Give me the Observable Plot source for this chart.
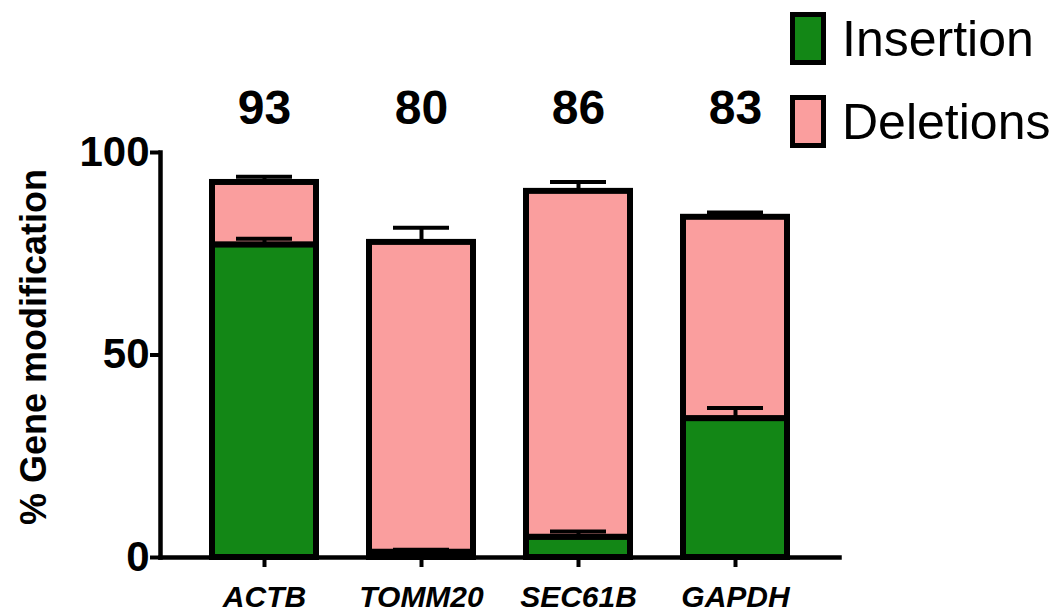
<!DOCTYPE html>
<html>
<head>
<meta charset="utf-8">
<script src="https://cdn.jsdelivr.net/npm/d3@7"></script>
<script src="https://cdn.jsdelivr.net/npm/@observablehq/plot@0.6"></script>
<style>
  html, body { margin: 0; padding: 0; background: #fff; }
  #wrap { position: relative; width: 1063px; height: 616px; font-family: "Liberation Sans", Arial, sans-serif; }
  #legend { position: absolute; left: 790px; top: 12px; }
  .item { display: flex; align-items: center; height: 53px; margin-bottom: 30px; }
  .sw { width: 26px; height: 43px; border: 5px solid #000; margin-right: 16px; }
  .lab { font-size: 50px; color: #000; line-height: 1; }
</style>
</head>
<body>
<div id="wrap"></div>
<script>
const genes = ["ACTB", "TOMM20", "SEC61B", "GAPDH"];
const insertion = [77.2, 1.3, 5.0, 34.3];
const deletions = [15.4, 76.5, 85.4, 49.7];
const insertionSEM = [1.5, 0.6, 1.4, 2.6];
const totalSEM = [1.4, 3.6, 2.3, 1.2];
const topLabels = ["93", "80", "86", "83"];
const seriesNames = ["Insertion", "Deletions"];
const seriesColors = ["#138716", "#fa9e9e"];
const yTicks = [0, 50, 100];
const yTitle = "% Gene modification";

const rows = [];
genes.forEach((g, i) => {
  rows.push({gene: g, type: seriesNames[0], value: insertion[i]});
  rows.push({gene: g, type: seriesNames[1], value: deletions[i]});
});
const errs = genes.flatMap((g, i) => [
  {gene: g, y1: insertion[i], y2: insertion[i] + insertionSEM[i]},
  {gene: g, y1: insertion[i] + deletions[i], y2: insertion[i] + deletions[i] + totalSEM[i]}
]);
const tops = genes.map((g, i) => ({gene: g, label: topLabels[i]}));

const chart = Plot.plot({
  width: 1063,
  height: 616,
  marginLeft: 160,
  marginRight: 224,
  marginTop: 152,
  marginBottom: 59,
  style: {fontFamily: "Liberation Sans, Arial, sans-serif", color: "#000", background: "#fff"},
  x: {domain: genes, paddingInner: 0.338, paddingOuter: 0.331, label: null},
  y: {domain: [0, 100], label: null},
  color: {domain: seriesNames, range: seriesColors},
  marks: [
    Plot.barY(rows, {x: "gene", y: "value", fill: "type", stroke: "#000", strokeWidth: 6}),
    Plot.ruleX(errs, {x: "gene", y1: "y1", y2: "y2", stroke: "#000", strokeWidth: 4}),
    Plot.tickY(errs, {x: "gene", y: "y2", stroke: "#000", strokeWidth: 4, insetLeft: 24, insetRight: 24}),
    Plot.frame({anchor: "left", stroke: "#000", strokeWidth: 4.5}),
    Plot.frame({anchor: "bottom", stroke: "#000", strokeWidth: 4.5}),
    Plot.axisY({ticks: yTicks, tickSize: 10, tickPadding: 1, strokeWidth: 4, fontSize: 42, fontWeight: "bold", label: null}),
    Plot.axisX({tickSize: 10, tickPadding: 18, strokeWidth: 4, fontSize: 30, fontWeight: "bold", fontStyle: "italic", label: null}),
    Plot.text([yTitle], {frameAnchor: "left", rotate: -90, dx: -126, dy: -8, fontSize: 36, fontWeight: "bold", fill: "#000", lineAnchor: "middle", textAnchor: "middle"}),
    Plot.text(tops, {x: "gene", text: "label", frameAnchor: "top", lineAnchor: "middle", dy: -44, fontSize: 48, fontWeight: "bold", fill: "#000"})
  ]
});
const wrap = document.getElementById("wrap");
wrap.appendChild(chart);

const legend = document.createElement("div");
legend.id = "legend";
seriesNames.forEach((n, i) => {
  const it = document.createElement("div");
  it.className = "item";
  const sw = document.createElement("div");
  sw.className = "sw";
  sw.style.background = seriesColors[i];
  const lb = document.createElement("span");
  lb.className = "lab";
  lb.textContent = n;
  it.appendChild(sw);
  it.appendChild(lb);
  legend.appendChild(it);
});
wrap.appendChild(legend);
</script>
</body>
</html>
